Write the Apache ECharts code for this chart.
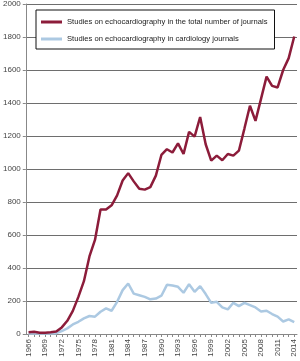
<!DOCTYPE html>
<html>
<head>
<meta charset="utf-8">
<script src="https://cdn.jsdelivr.net/npm/echarts@6/dist/echarts.min.js"></script>
<style>
  html, body { margin: 0; padding: 0; background: #fff; }
  #chart { width: 300px; height: 361px; }
</style>
</head>
<body>
<div id="chart"></div>
<script>
var years = [];
for (var y = 1966; y <= 2014; y++) years.push(String(y));

var totalName = 'Studies on echocardiography in the total number of journals';
var cardioName = 'Studies on echocardiography in cardiology journals';

// total number of journals
var totalStudies = [
  10, 14, 8, 8, 10, 15, 40, 80, 140, 225,
  320, 470, 570, 755, 755, 780, 840, 930, 975, 925,
  880, 875, 890, 960, 1085, 1120, 1100, 1155, 1091, 1225,
  1196, 1315, 1150, 1051, 1081, 1053, 1091, 1081, 1111, 1245,
  1383, 1292, 1425, 1560, 1504, 1494, 1600, 1672, 1803
];

// cardiology journals
var cardioStudies = [
  3, 3, 3, 3, 3, 5, 18, 34, 58, 74,
  95, 109, 105, 135, 155, 141, 195, 266, 306, 245,
  235, 225, 210, 215, 232, 298, 294, 286, 250, 302,
  256, 290, 242, 189, 195, 161, 149, 189, 169, 189,
  175, 161, 137, 141, 121, 105, 76, 89, 72
];

var chart = echarts.init(document.getElementById('chart'), null, { renderer: 'canvas' });

var option = {
  animation: false,
  grid: {
    left: 23,
    right: 3,
    top: 3,
    bottom: 27
  },
  legend: {
    data: [totalName, cardioName],
    orient: 'vertical',
    left: 36,
    top: 10,
    padding: [7, 7, 5, 5],
    itemGap: 7,
    itemWidth: 21,
    itemHeight: 3,
    icon: 'rect',
    borderColor: '#111',
    borderWidth: 1,
    backgroundColor: '#fff',
    textStyle: {
      fontFamily: 'Liberation Sans, Arial, sans-serif',
      fontSize: 7.6,
      lineHeight: 10,
      color: '#222'
    }
  },
  xAxis: {
    type: 'category',
    data: years,
    boundaryGap: true,
    axisLine: { lineStyle: { color: '#888', width: 1 } },
    axisTick: { show: true, alignWithLabel: true, interval: 0, length: 3, lineStyle: { color: '#888' } },
    axisLabel: {
      interval: 2,
      rotate: 90,
      margin: 5,
      fontFamily: 'Liberation Sans, Arial, sans-serif',
      fontSize: 8,
      color: '#444'
    },
    splitLine: { show: false }
  },
  yAxis: {
    type: 'value',
    min: 0,
    max: 2000,
    interval: 200,
    axisLine: { show: true, lineStyle: { color: '#888', width: 1 } },
    axisTick: { show: true, length: 3, lineStyle: { color: '#888' } },
    axisLabel: {
      margin: 5,
      formatter: function (v) { return String(v); },
      fontFamily: 'Liberation Sans, Arial, sans-serif',
      fontSize: 8,
      color: '#444'
    },
    splitLine: { lineStyle: { color: '#6e6e6e', width: 1 } }
  },
  series: [{
    name: totalName,
    type: 'line',
    data: totalStudies,
    z: 3,
    symbol: 'none',
    smooth: false,
    lineStyle: { color: '#8c1c3a', width: 2.5 },
    itemStyle: { color: '#8c1c3a' }
  }, {
    name: cardioName,
    type: 'line',
    data: cardioStudies,
    z: 2,
    symbol: 'none',
    smooth: false,
    lineStyle: { color: '#acc9e2', width: 2.5 },
    itemStyle: { color: '#acc9e2' }
  }]
};

chart.setOption(option);
</script>
</body>
</html>
